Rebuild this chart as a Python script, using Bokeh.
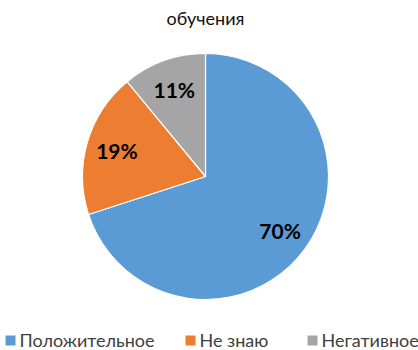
import math
from bokeh.plotting import figure
from bokeh.models import ColumnDataSource, Range1d
from bokeh.core.properties import value
from bokeh.embed import file_html
from bokeh.resources import INLINE

# Data
categories = ["Положительное", "Не знаю", "Негативное"]
shares = [70, 19, 11]
labels = ["70%", "19%", "11%"]
colors = ["#5B9BD5", "#ED7D31", "#A5A5A5"]
title_text = "обучения"

W, H = 418, 350
p = figure(width=W, height=H, output_backend="svg", toolbar_location=None,
           x_range=Range1d(0, W), y_range=Range1d(0, H), min_border=0)
p.axis.visible = False
p.grid.visible = False
p.outline_line_color = None
p.background_fill_color = "white"
p.border_fill_color = "white"

cx, cy, r = 205, 350 - 176, 123
total = sum(shares)
starts, ends, lx, ly = [], [], [], []
acc = 0.0
for s in shares:
    a0 = math.pi / 2 - 2 * math.pi * acc / total
    acc += s
    a1 = math.pi / 2 - 2 * math.pi * acc / total
    starts.append(a0)
    ends.append(a1)
    mid = (a0 + a1) / 2
    lx.append(cx + 0.75 * r * math.cos(mid))
    ly.append(cy + 0.75 * r * math.sin(mid))

src = ColumnDataSource(dict(start=starts, end=ends, color=colors, lx=lx, ly=ly, label=labels))
p.wedge(x=cx, y=cy, radius=r, start_angle="start", end_angle="end", direction="clock",
        fill_color="color", line_color="white", line_width=1.2, source=src)
p.text(x="lx", y="ly", text="label", source=src, text_font=value("Lato"),
       text_font_size="21px", text_font_style="bold", text_align="center",
       text_baseline="middle", text_color="black")

# Title
p.text(x=[205], y=[350 - 17], text=[title_text], text_font=value("Lato"), text_font_size="18px",
       text_align="center", text_baseline="middle", text_color="#111111")

# Legend
leg_x = [5, 185, 307]
leg_y = 350 - 339
p.rect(x=[x + 5 for x in leg_x], y=[leg_y - 1] * 3, width=10, height=10, fill_color=colors,
       line_color=None)
p.text(x=[x + 14 for x in leg_x], y=[leg_y] * 3, text=categories, text_font=value("Lato"),
       text_font_size="18px", text_align="left", text_baseline="middle", text_color="#404040")

open("out.html", "w").write(file_html(p, INLINE))
